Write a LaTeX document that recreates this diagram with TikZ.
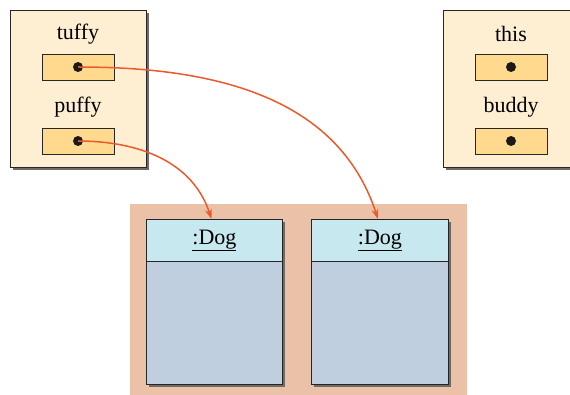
\documentclass[tikz,border=0pt]{standalone}
\usepackage{fontspec}
\setmainfont{Liberation Serif}
\usepackage{xcolor}
\usepackage{tikz}
\usetikzlibrary{arrows.meta,positioning}

\definecolor{framefill}{HTML}{FFEFD2}
\definecolor{boxfill}{HTML}{FFD98E}
\definecolor{shadowgray}{HTML}{6E6A64}
\definecolor{heapfill}{HTML}{EBC2A8}
\definecolor{headfill}{HTML}{C8E8EF}
\definecolor{bodyfill}{HTML}{BFCFDF}
\definecolor{refcolor}{HTML}{EA5A2C}

\tikzset{
  frame/.style={fill=framefill,draw=black!85,line width=0.9pt},
  refbox/.style={draw=black!85,fill=boxfill,line width=0.9pt,minimum width=72pt,minimum height=26pt,inner sep=0pt},
  dot/.style={circle,fill=black!90,minimum size=10pt,inner sep=0pt},
  lbl/.style={font=\fontsize{22}{26}\selectfont,inner sep=0pt},
  dogtop/.style={draw=black!85,fill=headfill,line width=0.9pt,minimum width=136pt,minimum height=42pt,inner sep=0pt,font=\fontsize{22}{26}\selectfont},
  ref/.style={draw=refcolor,line width=1.5pt,-{Stealth[length=10pt,width=7pt]}}
}

\begin{document}
\begin{tikzpicture}[x=1pt,y=-1pt]
  \useasboundingbox (0,0) rectangle (570,395);
  \clip (0,0) rectangle (570,395);
  % left frame
  \fill[shadowgray] (13,13) rectangle (149,170);
  \draw[frame] (10,10) rectangle (146,167);
  \node[lbl] (tuffylbl) at (78,34) {tuffy};
  \node[refbox] (tuffybox) at (78,67) {};
  \node[dot] (tuffy) at (tuffybox.center) {};
  \node[lbl] (puffylbl) at (78,107) {puffy};
  \node[refbox] (puffybox) at (78,141) {};
  \node[dot] (puffy) at (puffybox.center) {};
  % right frame
  \fill[shadowgray] (446,13) rectangle (582,170);
  \draw[frame] (443,10) rectangle (579,167);
  \node[lbl] (thislbl) at (511,34) {this};
  \node[refbox] (thisbox) at (511,67) {};
  \node[dot] (this) at (thisbox.center) {};
  \node[lbl] (buddylbl) at (511,107) {buddy};
  \node[refbox] (buddybox) at (511,141) {};
  \node[dot] (buddy) at (buddybox.center) {};
  % heap
  \fill[heapfill] (130,204) rectangle (467,400);
  \fill[shadowgray] (149,222) rectangle (285,387);
  \draw[draw=black!85,fill=bodyfill,line width=0.9pt] (146,261) rectangle (282,384);
  \node[dogtop,anchor=north west] (dogA) at (146,219) {\underline{:Dog}};
  \fill[shadowgray] (314,222) rectangle (451,387);
  \draw[draw=black!85,fill=bodyfill,line width=0.9pt] (311,261) rectangle (448,384);
  \node[dogtop,anchor=north west,minimum width=137pt] (dogB) at (311,219) {\underline{:Dog}};
  % references
  \draw[ref] (tuffy.center) to[out=0,in=108] ([xshift=-2pt]dogB.north);
  \draw[ref] (puffy.center) to[out=0,in=108] ([xshift=-3pt]dogA.north);
\end{tikzpicture}
\end{document}
